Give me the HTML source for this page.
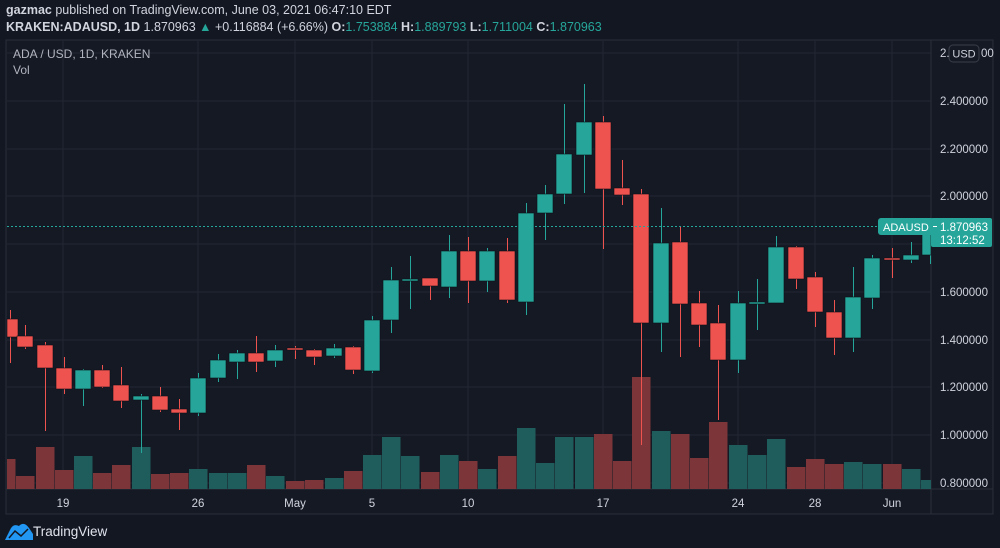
<!DOCTYPE html>
<html><head><meta charset="utf-8"><style>
html,body{margin:0;padding:0;background:#131722;width:1000px;height:548px;overflow:hidden;font-family:"Liberation Sans",sans-serif;}
.t{position:absolute;left:6px;color:#d1d4dc;font-size:12.5px;white-space:nowrap;}
.g{color:#26a69a}
</style></head><body>
<div class="t" style="top:3px"><b>gazmac</b> published on TradingView.com, June 03, 2021 06:47:10 EDT</div>
<div class="t" style="top:20px"><b>KRAKEN:ADAUSD, 1D</b> 1.870963 <span class="g">▲</span> +0.116884 (+6.66%) <b>O:</b><span class="g">1.753884</span> <b>H:</b><span class="g">1.889793</span> <b>L:</b><span class="g">1.711004</span> <b>C:</b><span class="g">1.870963</span></div>
<svg id="s" width="1000" height="548" style="position:absolute;left:0;top:0" xmlns="http://www.w3.org/2000/svg" font-family="Liberation Sans, sans-serif"></svg>
<script>
var s=document.getElementById('s');var h='';
h+='<rect x="6" y="40" width="987" height="474" fill="#151924" stroke="#2a2e39"/>';
[53,101,149,196,244,292,340,387,435,483].forEach(function(y){h+='<line x1="7" x2="931" y1="'+y+'" y2="'+y+'" stroke="#222633"/>';});
[63,198,295,372,468,603,738,815,892].forEach(function(x){h+='<line x1="'+x+'" x2="'+x+'" y1="41" y2="489" stroke="#222633"/>';});
h+='<line x1="931" x2="931" y1="40" y2="514" stroke="#2a2e39"/><line x1="6" x2="993" y1="489" y2="489" stroke="#2a2e39"/>';
var V=[[6,459,0],[25,476,0],[45,447,0],[64,470,0],[83,456,1],[102,473,0],[121,465,0],[141,447,1],[160,474,0],[179,473,0],[198,469,1],[218,473,1],[237,473,1],[256,465,0],[275,476,1],[295,481,0],[314,480,0],[334,478,1],[353,471,0],[372,455,1],[391,437,1],[410,456,1],[430,472,0],[449,455,1],[468,461,0],[487,469,1],[507,456,0],[526,428,1],[545,463,1],[564,437,1],[584,437,1],[603,434,0],[622,461,0],[641,377,0],[661,431,1],[680,434,0],[699,458,0],[718,422,0],[738,445,1],[757,455,1],[776,439,1],[796,467,0],[815,459,0],[834,464,0],[853,462,1],[872,464,1],[892,464,0],[911,469,1],[930,480,1]];
V.forEach(function(v){var x0=Math.max(7,v[0]-9),x1=Math.min(931,v[0]+9.5);h+='<rect x="'+x0+'" y="'+v[1]+'" width="'+(x1-x0)+'" height="'+(489-v[1])+'" fill="'+(v[2]?'#1f5d5c':'#7c3539')+'"/>';});
var C=[[10,319,337,310,363,0],[25,336,347,325,349,0],[45,345,368,342,431,0],[64,368,389,357,394,0],[83,370,389,369,406,1],[102,370,387,365,388,0],[121,385,401,367,408,0],[141,396,400,394,453,1],[160,396,410,387,412,0],[179,409,413,399,430,0],[198,378,413,373,416,1],[218,360,378,354,382,1],[237,353,362,350,379,1],[256,353,362,336,372,0],[275,350,361,345,367,1],[295,348,350,346,359,0],[314,350,357,349,365,0],[334,348,356,344,358,1],[353,347,370,346,374,0],[372,320,371,316,373,1],[391,280,320,267,333,1],[410,279,281,256,309,1],[430,278,286,278,300,0],[449,251,287,235,298,1],[468,251,281,237,303,0],[487,251,281,248,292,1],[507,251,300,238,303,0],[526,213,302,203,315,1],[545,194,213,185,240,1],[564,154,194,104,204,1],[584,122,155,84,193,1],[603,122,189,116,249,0],[622,188,195,160,205,0],[641,194,323,189,445,0],[661,243,323,208,352,1],[680,242,304,226,357,0],[699,303,325,291,347,0],[718,323,360,305,420,0],[738,303,360,291,373,1],[757,302,304,279,330,1],[776,247,303,236,303,1],[796,247,279,246,289,0],[815,277,312,272,327,0],[834,312,338,300,355,0],[853,297,338,267,352,1],[872,258,298,255,309,1],[892,258,260,248,278,0],[911,255,260,242,263,1],[930,228,255,226,264,1]];
C.forEach(function(c){var col=c[5]?'#26a69a':'#ef5350';var x0=Math.max(7,c[0]-8),x1=Math.min(931,c[0]+8);
if(c[0]<931)h+='<line x1="'+(c[0]+.5)+'" x2="'+(c[0]+.5)+'" y1="'+c[3]+'" y2="'+c[4]+'" stroke="'+col+'"/>';
h+='<rect x="'+x0+'" y="'+c[1]+'" width="'+(x1-x0)+'" height="'+Math.max(2,c[2]-c[1])+'" fill="'+col+'" stroke="#0e1017" stroke-width="0.6"/>';});
h+='<line x1="7" x2="878" y1="226.5" y2="226.5" stroke="#26a69a" stroke-dasharray="2,2"/>';
[['2.400000',101],['2.200000',149],['2.000000',196],['1.600000',292],['1.400000',340],['1.200000',387],['1.000000',435],['0.800000',483]].forEach(function(l){h+='<text x="940" y="'+(l[1]+4)+'" font-size="11.5" fill="#d1d4dc">'+l[0]+'</text>';});
h+='<text x="940" y="57" font-size="11.5" fill="#d1d4dc">2.</text><rect x="949" y="45" width="30" height="17" rx="4" fill="#151924" stroke="#3a3e4a"/><text x="964" y="57.5" font-size="11" fill="#d1d4dc" text-anchor="middle">USD</text><text x="981" y="57" font-size="11.5" fill="#d1d4dc">00</text>';
[['19',63],['26',198],['May',295],['5',372],['10',468],['17',603],['24',738],['28',815],['Jun',892]].forEach(function(d){h+='<text x="'+d[1]+'" y="507" font-size="11.5" fill="#d1d4dc" text-anchor="middle">'+d[0]+'</text>';});
h+='<text x="13" y="58" font-size="12" fill="#b2b5be">ADA / USD, 1D, KRAKEN</text><text x="13" y="74" font-size="12" fill="#b2b5be">Vol</text>';
h+='<rect x="878" y="218" width="56" height="17" rx="3" fill="#26a69a"/><text x="883" y="231" font-size="11" fill="#fff">ADAUSD</text>';
h+='<rect x="931" y="218" width="61" height="29" rx="2" fill="#26a69a"/><line x1="933" x2="937" y1="226.5" y2="226.5" stroke="#fff"/><text x="940" y="231" font-size="11.5" fill="#fff">1.870963</text><text x="940" y="244" font-size="11.5" fill="#fff">13:12:52</text>';
h+='<path d="M5 540 L10 530 Q13 523 19 526 Q24 521 29 528 L33 534 L33 540 Z" fill="#2196f3"/><path d="M9 538 L15 531 L21 536 L28 529" stroke="#131722" stroke-width="1.5" fill="none"/>';
h+='<text x="33" y="536" font-size="13.5" fill="#e0e3eb">TradingView</text>';
s.innerHTML=h;
</script>
</body></html>
